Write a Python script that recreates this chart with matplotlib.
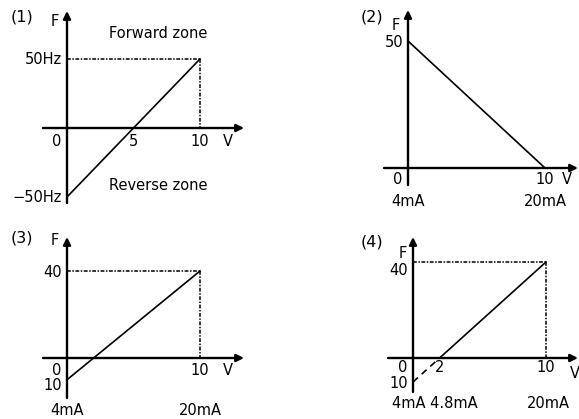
import matplotlib
matplotlib.use("Agg")
import matplotlib.pyplot as plt

# ---- data ----
p1_v = [0, 10]; p1_f = [-50, 50]
p2_v = [0, 10]; p2_f = [50, 0]
p3_v = [0, 10]; p3_f = [-10, 40]
p4_v_solid = [2, 10]; p4_f_solid = [0, 40]
p4_v_dash = [0, 2]; p4_f_dash = [-10, 0]

W, H = 579, 419
fig = plt.figure(figsize=(W / 100, H / 100), dpi=100)
plt.rcParams['font.family'] = ['DejaVu Sans']
FS = 10.5
AX_LW = 1.7
LN_LW = 1.2
DOT = (0, (2.5, 1.0, 1.0, 1.0))


def make_ax(box, ox, oy, sx, sy):
    """box = (x0, y0, x1, y1) pixel box from top-left; origin pixel (ox, oy); scales px/unit."""
    x0, y0, x1, y1 = box
    ax = fig.add_axes([x0 / W, 1 - y1 / H, (x1 - x0) / W, (y1 - y0) / H])
    ax.set_xlim((x0 - ox) / sx, (x1 - ox) / sx)
    ax.set_ylim((oy - y1) / sy, (oy - y0) / sy)
    ax.axis('off')
    ax._px = (ox, oy, sx, sy)
    return ax


def px2d(ax, px, py):
    ox, oy, sx, sy = ax._px
    return (px - ox) / sx, (oy - py) / sy


def axes_arrows(ax, xl, xr, yb, yt):
    a, _ = px2d(ax, xl, 0)
    b, _ = px2d(ax, xr, 0)
    ax.annotate('', xy=(b, 0), xytext=(a, 0),
                arrowprops=dict(arrowstyle='-|>', lw=AX_LW, color='k',
                                mutation_scale=11, shrinkA=0, shrinkB=0),
                annotation_clip=False)
    _, c = px2d(ax, 0, yb)
    _, d = px2d(ax, 0, yt)
    ax.annotate('', xy=(0, d), xytext=(0, c),
                arrowprops=dict(arrowstyle='-|>', lw=AX_LW, color='k',
                                mutation_scale=11, shrinkA=0, shrinkB=0),
                annotation_clip=False)


def lab(ax, txt, x, y, dx, dy, ha='center', va='center'):
    ax.annotate(txt, (x, y), xytext=(dx, dy), textcoords='offset pixels',
                ha=ha, va=va, fontsize=FS, annotation_clip=False)


def ftxt(txt, px, py, ha='center', fs=FS):
    fig.text(px / W, 1 - py / H, txt, ha=ha, va='center', fontsize=fs)


def guide(ax, xv, yv):
    ax.plot([0, xv], [yv, yv], color='k', lw=1.1, ls=DOT)
    ax.plot([xv, xv], [yv, 0], color='k', lw=1.1, ls=DOT)


# ---- panel 1 ----
ax1 = make_ax((0, 0, 289, 209), 67, 128, 13.3, 1.38)
axes_arrows(ax1, 43, 244, 203, 11)
guide(ax1, p1_v[1], p1_f[1])
ax1.plot(p1_v, p1_f, color='k', lw=LN_LW)
ftxt('(1)', 22, 17, fs=11.5)
ftxt('F', 55, 22)
ftxt('Forward zone', 158, 33)
ftxt('Reverse zone', 158, 185)
lab(ax1, '50Hz', 0, 50, -5, 0, ha='right')
lab(ax1, '\u221250Hz', 0, -50, -5, 0, ha='right')
lab(ax1, '0', 0, 0, -10, -13)
lab(ax1, '5', 5, 0, 0, -13)
lab(ax1, '10', 10, 0, 0, -13)
lab(ax1, 'V', 10, 0, 28, -13)

# ---- panel 2 ----
ax2 = make_ax((290, 0, 579, 209), 408, 168, 13.7, 2.54)
axes_arrows(ax2, 384, 578, 185, 10)
ax2.plot(p2_v, p2_f, color='k', lw=LN_LW)
ftxt('(2)', 372, 17, fs=11.5)
ftxt('F', 396, 25)
lab(ax2, '50', 0, 50, -5, -2, ha='right')
lab(ax2, '0', 0, 0, -10, -12)
lab(ax2, '10', 10, 0, 0, -12)
lab(ax2, 'V', 10, 0, 22, -12)
lab(ax2, '4mA', 0, 0, 0, -34)
lab(ax2, '20mA', 10, 0, 0, -34)

# ---- panel 3 ----
ax3 = make_ax((0, 210, 289, 419), 67, 358, 13.3, 2.175)
axes_arrows(ax3, 43, 244, 398, 237)
guide(ax3, p3_v[1], p3_f[1])
ax3.plot(p3_v, p3_f, color='k', lw=LN_LW)
ftxt('(3)', 22, 238, fs=11.5)
ftxt('F', 55, 240)
lab(ax3, '40', 0, 40, -5, -1, ha='right')
lab(ax3, '0', 0, 0, -10, -12)
lab(ax3, '10', 0, -10, -5, -6, ha='right')
lab(ax3, '10', 10, 0, 0, -12)
lab(ax3, 'V', 10, 0, 28, -12)
lab(ax3, '4mA', 0, 0, 0, -52)
lab(ax3, '20mA', 10, 0, 0, -52)

# ---- panel 4 ----
ax4 = make_ax((290, 210, 579, 419), 413, 358, 13.3, 2.4)
axes_arrows(ax4, 388, 578, 392, 237)
guide(ax4, p4_v_solid[1], p4_f_solid[1])
ax4.plot(p4_v_solid, p4_f_solid, color='k', lw=LN_LW)
ax4.plot(p4_v_dash, p4_f_dash, color='k', lw=LN_LW, ls=(0, (4, 3)))
ftxt('(4)', 372, 242, fs=11.5)
ftxt('F', 403, 253)
lab(ax4, '40', 0, 40, -5, -8, ha='right')
lab(ax4, '0', 0, 0, -10, -9)
lab(ax4, '2', 2, 0, 0, -9)
lab(ax4, '10', 10, 0, 0, -9)
lab(ax4, 'V', 10, 0, 29, -15)
lab(ax4, '10', 0, -10, -5, -1, ha='right')
lab(ax4, '4mA 4.8mA', 0, 0, 22, -45)
lab(ax4, '20mA', 10, 0, 2, -45)

fig.savefig('out.png', dpi=100)
